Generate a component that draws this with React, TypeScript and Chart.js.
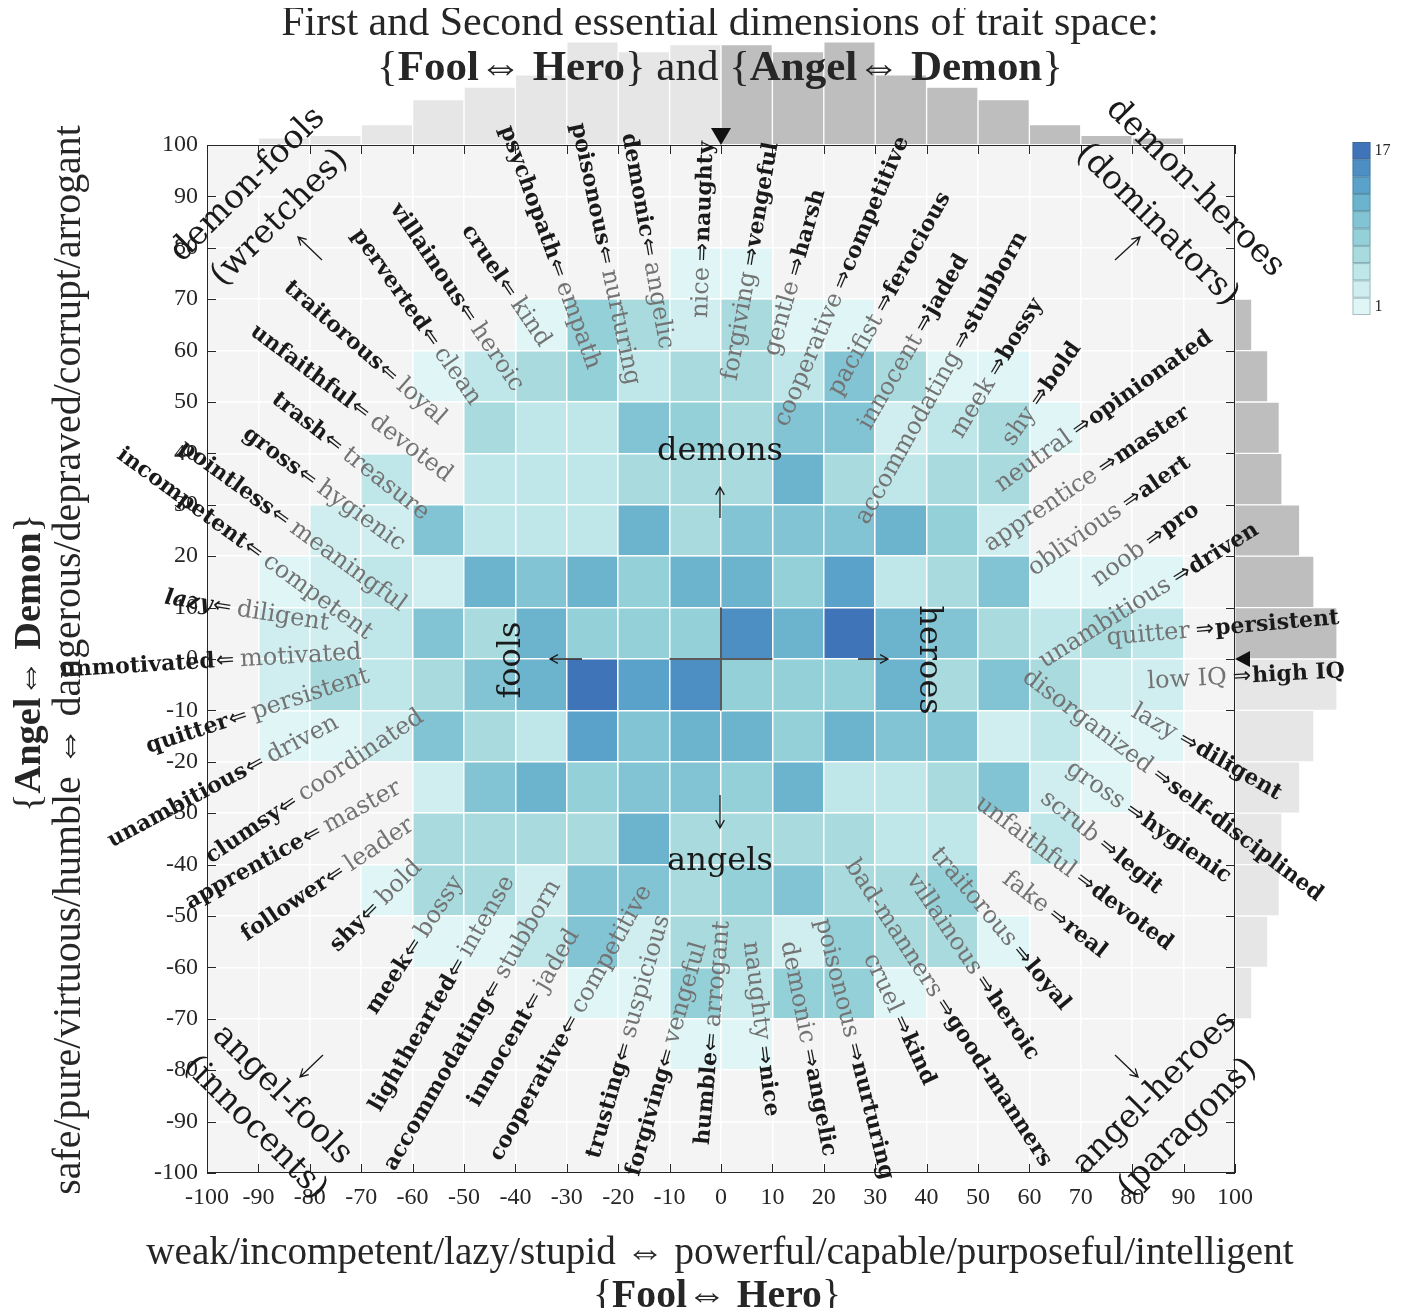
import React, { useEffect, useRef } from 'react';
import { Chart, registerables } from 'chart.js';

Chart.register(...registerables);

// ---------------- data ----------------
const X_BIN_LOWS = [-100, -90, -80, -70, -60, -50, -40, -30, -20, -10, 0, 10, 20, 30, 40, 50, 60, 70, 80, 90];
const Y_BIN_LOWS = [70, 60, 50, 40, 30, 20, 10, 0, -10, -20, -30, -40, -50, -60, -70, -80];

// counts per 10x10 cell, columns follow X_BIN_LOWS
const COUNTS_Y70 = [0, 0, 0, 0, 0, 0, 0, 0, 0, 1, 1, 0, 0, 0, 0, 0, 0, 0, 0, 0];
const COUNTS_Y60 = [0, 0, 0, 0, 0, 0, 1, 8, 6, 3, 6, 1, 1, 0, 0, 0, 0, 0, 0, 0];
const COUNTS_Y50 = [0, 0, 0, 0, 1, 5, 6, 8, 5, 6, 6, 5, 10, 6, 1, 1, 0, 0, 0, 0];
const COUNTS_Y40 = [0, 0, 0, 0, 0, 6, 5, 5, 10, 8, 6, 10, 10, 3, 5, 6, 1, 0, 0, 0];
const COUNTS_Y30 = [0, 0, 0, 5, 0, 5, 5, 5, 6, 6, 6, 12, 6, 5, 6, 6, 0, 0, 0, 0];
const COUNTS_Y20 = [0, 0, 3, 3, 10, 5, 5, 5, 12, 6, 10, 10, 10, 12, 8, 3, 0, 0, 0, 0];
const COUNTS_Y10 = [0, 1, 3, 5, 3, 12, 10, 12, 8, 12, 12, 8, 13, 5, 6, 10, 1, 1, 1, 0];
const COUNTS_Y0 = [0, 3, 3, 5, 10, 6, 12, 8, 8, 8, 15, 12, 17, 12, 10, 6, 5, 6, 5, 0];
const COUNTS_YM10 = [0, 3, 6, 5, 6, 10, 12, 17, 13, 15, 8, 8, 8, 12, 6, 10, 6, 3, 3, 0];
const COUNTS_YM20 = [0, 1, 1, 3, 10, 6, 5, 13, 10, 12, 12, 8, 12, 10, 10, 3, 5, 1, 1, 0];
const COUNTS_YM30 = [0, 0, 0, 0, 3, 10, 12, 8, 10, 10, 8, 12, 5, 5, 6, 10, 3, 1, 0, 0];
const COUNTS_YM40 = [0, 0, 0, 0, 6, 6, 6, 6, 12, 6, 6, 6, 6, 5, 5, 0, 5, 0, 0, 0];
const COUNTS_YM50 = [0, 0, 0, 1, 6, 6, 3, 10, 10, 6, 8, 10, 6, 6, 8, 0, 0, 0, 0, 0];
const COUNTS_YM60 = [0, 0, 0, 0, 1, 1, 5, 10, 3, 6, 6, 3, 8, 6, 6, 1, 0, 0, 0, 0];
const COUNTS_YM70 = [0, 0, 0, 0, 0, 0, 0, 1, 1, 8, 5, 8, 8, 1, 0, 0, 0, 0, 0, 0];
const COUNTS_YM80 = [0, 0, 0, 0, 0, 0, 0, 0, 0, 1, 1, 0, 0, 0, 0, 0, 0, 0, 0, 0];

const HEAT_ROWS = [COUNTS_Y70, COUNTS_Y60, COUNTS_Y50, COUNTS_Y40, COUNTS_Y30, COUNTS_Y20, COUNTS_Y10, COUNTS_Y0,
  COUNTS_YM10, COUNTS_YM20, COUNTS_YM30, COUNTS_YM40, COUNTS_YM50, COUNTS_YM60, COUNTS_YM70, COUNTS_YM80];

// marginal histograms
const TOP_HIST_COUNTS = [0, 8, 11, 23, 51, 65, 79, 116, 105, 113, 113, 105, 116, 79, 65, 51, 23, 11, 8, 0];
const RIGHT_HIST_BINS = [90, 80, 70, 60, 50, 40, 30, 20, 10, 0, -10, -20, -30, -40, -50, -60, -70, -80, -90, -100];
const RIGHT_HIST_COUNTS = [0, 0, 0, 19, 37, 50, 53, 73, 89, 115, 115, 89, 73, 53, 50, 37, 19, 0, 0, 0];

const COUNT_MIN = 1;
const COUNT_MAX = 17;
const CELL_COLORS = ['#e0f6f6', '#d0eef0', '#bfe6e8', '#a8dade', '#94d0d8', '#82c4d3', '#6cb3ce', '#5aa2c9', '#4d8fc2', '#3f74b8'];

// trait labels: [bold word, grey word, anchor x, anchor y (reference px), angle (deg), direction]
const TRAIT_LABELS: any[] = [
  ['demonic', 'angelic', 648, 247, 80, 'in'],
  ['poisonous', 'nurturing', 605, 255, 78, 'in'],
  ['psychopath', 'empath', 557, 268, 70, 'in'],
  ['cruel', 'kind', 507, 288, 56, 'in'],
  ['villainous', 'heroic', 467, 313, 56, 'in'],
  ['perverted', 'clean', 430, 337, 55, 'in'],
  ['traitorous', 'loyal', 388, 373, 41, 'in'],
  ['unfaithful', 'devoted', 360, 410, 37, 'in'],
  ['trash', 'treasure', 333, 443, 38, 'in'],
  ['gross', 'hygienic', 307, 477, 36, 'in'],
  ['pointless', 'meaningful', 280, 517, 36, 'in'],
  ['incompetent', 'competent', 253, 550, 36, 'in'],
  ['lazy', 'diligent', 222, 607, 9, 'in', true],
  ['unmotivated', 'motivated', 225, 661, -3.5, 'in'],
  ['quitter', 'persistent', 238, 718, -18, 'in'],
  ['unambitious', 'driven', 255, 765, -28, 'in'],
  ['clumsy', 'coordinated', 288, 805, -34, 'in'],
  ['apprentice', 'master', 312, 835, -29, 'in'],
  ['follower', 'leader', 335, 875, -34, 'in'],
  ['shy', 'bold', 370, 912, -45, 'in'],
  ['meek', 'bossy', 413, 948, -57, 'in'],
  ['lighthearted', 'intense', 457, 968, -60, 'in'],
  ['accommodating', 'stubborn', 493, 990, -60, 'in'],
  ['innocent', 'jaded', 533, 1002, -60, 'in'],
  ['cooperative', 'competitive', 570, 1025, -61, 'in'],
  ['trusting', 'suspicious', 624, 1052, -74, 'in'],
  ['forgiving', 'vengeful', 667, 1058, -74, 'in'],
  ['humble', 'arrogant', 712, 1042, -85, 'in'],
  ['naughty', 'nice', 703, 252, -88, 'out'],
  ['vengeful', 'forgiving', 752, 257, -80, 'out'],
  ['harsh', 'gentle', 797, 267, -74, 'out'],
  ['competitive', 'cooperative', 843, 280, -67, 'out'],
  ['ferocious', 'pacifist', 885, 303, -61, 'out'],
  ['jaded', 'innocent', 925, 323, -60, 'out'],
  ['stubborn', 'accommodating', 963, 340, -61, 'out'],
  ['bossy', 'meek', 998, 367, -59, 'out'],
  ['bold', 'shy', 1040, 397, -55, 'out'],
  ['opinionated', 'neutral', 1082, 427, -35.5, 'out'],
  ['master', 'apprentice', 1108, 465, -34, 'out'],
  ['alert', 'oblivious', 1132, 500, -35, 'out'],
  ['pro', 'noob', 1155, 538, -36, 'out'],
  ['driven', 'unambitious', 1182, 575, -32, 'out'],
  ['persistent', 'quitter', 1205, 630, -5, 'out'],
  ['high IQ', 'low IQ', 1242, 677, -3, 'out'],
  ['diligent', 'lazy', 1188, 742, 30, 'out'],
  ['self-disciplined', 'disorganized', 1162, 778, 37, 'out'],
  ['hygienic', 'gross', 1135, 813, 35, 'out'],
  ['legit', 'scrub', 1108, 848, 39, 'out'],
  ['devoted', 'unfaithful', 1085, 882, 37, 'out'],
  ['real', 'fake', 1058, 918, 38, 'out'],
  ['loyal', 'traitorous', 1022, 955, 50, 'out'],
  ['heroic', 'villainous', 985, 985, 56, 'out'],
  ['good-manners', 'bad-manners', 945, 1008, 57, 'out'],
  ['kind', 'cruel', 902, 1025, 65, 'out'],
  ['nurturing', 'poisonous', 855, 1052, 76, 'out'],
  ['angelic', 'demonic', 810, 1058, 79, 'out'],
  ['nice', 'naughty', 764, 1055, 83, 'out'],
];

const CORNER_LABELS: any[] = [
  ['demon-fools', 248, 185, -45],
  ['(wretches)', 280, 218, -45],
  ['demon-heroes', 1195, 188, 45],
  ['(dominators)', 1157, 225, 45],
  ['angel-fools', 282, 1095, 45],
  ['(innocents)', 255, 1128, 45],
  ['angel-heroes', 1155, 1093, -45],
  ['(paragons)', 1188, 1128, -45],
];

const TITLE_LINE1 = 'First and Second essential dimensions of trait space:';
const TITLE_LINE2: any[] = [['{', 0], ['Fool', 1], ['\u21D4 ', 0], ['Hero', 1], ['} and {', 0], ['Angel', 1], ['\u21D4 ', 0], ['Demon', 1], ['}', 0]];
const XLABEL_LINE1 = 'weak/incompetent/lazy/stupid \u21D4 powerful/capable/purposeful/intelligent';
const XLABEL_LINE2: any[] = [['{', 0], ['Fool', 1], ['\u21D4 ', 0], ['Hero', 1], ['}', 0]];
const YLABEL_LINE1 = 'safe/pure/virtuous/humble \u21D4 dangerous/depraved/corrupt/arrogant';
const YLABEL_LINE2: any[] = [['{', 0], ['Angel', 1], ['\u21D4 ', 0], ['Demon', 1], ['}', 0]];

// ---------------- helpers ----------------
const SERIF = '"Liberation Serif", "Times New Roman", serif';
const LSERIF = '"DejaVu Serif", serif';
const REF_CX = 721;
const REF_CY = 659;
const REF_UNIT = 5.14;

function colorFor(c: number) {
  const i = Math.max(0, Math.min(CELL_COLORS.length - 1, Math.floor(((c - COUNT_MIN) / (COUNT_MAX - COUNT_MIN)) * CELL_COLORS.length)));
  return CELL_COLORS[i];
}

function segWidth(ctx: any, segs: any[], size: number, family: string) {
  let w = 0;
  for (const [t, b] of segs) {
    ctx.font = `${b ? 'bold ' : ''}${size}px ${family}`;
    w += ctx.measureText(t).width;
  }
  return w;
}

function drawSegs(ctx: any, segs: any[], size: number, family: string, color: string) {
  const w = segWidth(ctx, segs, size, family);
  let x = -w / 2;
  ctx.textAlign = 'left';
  ctx.fillStyle = color;
  for (const [t, b] of segs) {
    ctx.font = `${b ? 'bold ' : ''}${size}px ${family}`;
    ctx.fillText(t, x, 0);
    x += ctx.measureText(t).width;
  }
}

function arrowLine(ctx: any, x1: number, y1: number, x2: number, y2: number, head = 9) {
  const ang = Math.atan2(y2 - y1, x2 - x1);
  ctx.beginPath();
  ctx.moveTo(x1, y1);
  ctx.lineTo(x2, y2);
  ctx.moveTo(x2 - head * Math.cos(ang - 0.5), y2 - head * Math.sin(ang - 0.5));
  ctx.lineTo(x2, y2);
  ctx.lineTo(x2 - head * Math.cos(ang + 0.5), y2 - head * Math.sin(ang + 0.5));
  ctx.stroke();
}

const overlayPlugin = {
  id: 'overlay',
  beforeDraw(chart: any) {
    const { ctx, chartArea: a } = chart;
    ctx.save();
    ctx.fillStyle = '#f4f4f4';
    ctx.fillRect(a.left, a.top, a.right - a.left, a.bottom - a.top);
    ctx.restore();
  },
  afterDraw(chart: any) {
    const { ctx, chartArea: a } = chart;
    const xs = chart.scales.x;
    const ys = chart.scales.y;
    const X = (v: number) => xs.getPixelForValue(v);
    const Y = (v: number) => ys.getPixelForValue(v);
    const R = (px: number, py: number) => [X((px - REF_CX) / REF_UNIT), Y((REF_CY - py) / REF_UNIT)];
    ctx.save();

    // crosshair at origin
    ctx.strokeStyle = '#5a5a5a';
    ctx.lineWidth = 2;
    ctx.beginPath();
    ctx.moveTo(X(-10), Y(0));
    ctx.lineTo(X(10), Y(0));
    ctx.moveTo(X(0), Y(-10));
    ctx.lineTo(X(0), Y(10));
    ctx.stroke();

    // box + inward ticks
    ctx.strokeStyle = '#262626';
    ctx.lineWidth = 1;
    ctx.strokeRect(a.left + 0.5, a.top + 0.5, a.right - a.left - 1, a.bottom - a.top - 1);
    ctx.beginPath();
    for (let v = -100; v <= 100; v += 10) {
      const px = Math.round(X(v)) + 0.5;
      const py = Math.round(Y(v)) + 0.5;
      ctx.moveTo(px, a.top); ctx.lineTo(px, a.top + 9);
      ctx.moveTo(px, a.bottom); ctx.lineTo(px, a.bottom - 9);
      ctx.moveTo(a.left, py); ctx.lineTo(a.left + 9, py);
      ctx.moveTo(a.right, py); ctx.lineTo(a.right - 9, py);
    }
    ctx.stroke();

    // mean markers
    ctx.fillStyle = '#111';
    ctx.beginPath();
    ctx.moveTo(X(0), a.top);
    ctx.lineTo(X(0) - 10, a.top - 17);
    ctx.lineTo(X(0) + 10, a.top - 17);
    ctx.closePath();
    ctx.fill();
    ctx.beginPath();
    ctx.moveTo(a.right, Y(0));
    ctx.lineTo(a.right + 15, Y(0) - 8);
    ctx.lineTo(a.right + 15, Y(0) + 8);
    ctx.closePath();
    ctx.fill();

    // colorbar
    const [cbx0, cby0] = R(1352.5, 142);
    const [cbx1, cby1] = R(1370.5, 315);
    const n = CELL_COLORS.length;
    const bh = (cby1 - cby0) / n;
    for (let i = 0; i < n; i++) {
      const y0 = cby1 - (i + 1) * bh;
      ctx.fillStyle = CELL_COLORS[i];
      ctx.fillRect(cbx0, y0, cbx1 - cbx0, bh);
      ctx.strokeStyle = 'rgba(60,90,100,0.35)';
      ctx.lineWidth = 1;
      ctx.strokeRect(cbx0 + 0.5, y0 + 0.5, cbx1 - cbx0 - 1, bh - 1);
    }
    ctx.fillStyle = '#262626';
    ctx.font = `16px ${SERIF}`;
    ctx.textAlign = 'left';
    ctx.textBaseline = 'middle';
    ctx.fillText(String(COUNT_MAX), cbx1 + 4, cby0 + bh / 2);
    ctx.fillText(String(COUNT_MIN), cbx1 + 4, cby1 - bh / 2);

    // quadrant centre labels
    ctx.fillStyle = '#1a1a1a';
    ctx.strokeStyle = '#1a1a1a';
    ctx.lineWidth = 1.3;
    ctx.font = `32px ${LSERIF}`;
    ctx.textAlign = 'center';
    ctx.textBaseline = 'middle';
    let p = R(720, 452); ctx.fillText('demons', p[0], p[1]);
    p = R(720, 862); ctx.fillText('angels', p[0], p[1]);
    p = R(512, 660);
    ctx.save(); ctx.translate(p[0], p[1]); ctx.rotate(-Math.PI / 2); ctx.fillText('fools', 0, 0); ctx.restore();
    p = R(928, 660);
    ctx.save(); ctx.translate(p[0], p[1]); ctx.rotate(Math.PI / 2); ctx.fillText('heroes', 0, 0); ctx.restore();
    const arrows = [
      [720, 518, 720, 487], [582, 659, 550, 659], [858, 659, 888, 659], [720, 795, 720, 828],
      [322, 260, 298, 237], [1115, 260, 1140, 237], [323, 1055, 300, 1077], [1115, 1055, 1138, 1077],
    ];
    for (const [x1, y1, x2, y2] of arrows) {
      const s = R(x1, y1); const e = R(x2, y2);
      arrowLine(ctx, s[0], s[1], e[0], e[1]);
    }

    // corner labels
    ctx.font = `33px ${LSERIF}`;
    for (const [t, px, py, ang] of CORNER_LABELS) {
      const q = R(px, py);
      ctx.save(); ctx.translate(q[0], q[1]); ctx.rotate((ang * Math.PI) / 180); ctx.fillText(t, 0, 0); ctx.restore();
    }

    // trait labels
    const BOLD = `bold 22px ${LSERIF}`;
    const BOLDI = `italic bold 22px ${LSERIF}`;
    const GREY = `24px ${LSERIF}`;
    const ARROWF = `22px "DejaVu Sans", sans-serif`;
    const GREYC = '#737373';
    for (const L of TRAIT_LABELS) {
      const [bold, grey, px, py, ang, dir, ital] = L;
      const q = R(px, py);
      ctx.save();
      ctx.translate(q[0], q[1]);
      ctx.rotate((ang * Math.PI) / 180);
      ctx.textBaseline = 'middle';
      const arrow = dir === 'in' ? '\u21D0' : '\u21D2';
      ctx.font = ARROWF;
      const aw = ctx.measureText(arrow).width;
      ctx.fillStyle = '#1a1a1a';
      ctx.textAlign = 'center';
      ctx.fillText(arrow, 0, 0);
      if (dir === 'in') {
        ctx.font = ital ? BOLDI : BOLD;
        ctx.textAlign = 'right';
        ctx.fillText(bold, -aw / 2 - 1, 0);
        ctx.font = GREY;
        ctx.fillStyle = GREYC;
        ctx.textAlign = 'left';
        ctx.fillText(grey, aw / 2 + 6, 0);
      } else {
        ctx.font = GREY;
        ctx.fillStyle = GREYC;
        ctx.textAlign = 'right';
        ctx.fillText(grey, -aw / 2 - 6, 0);
        ctx.font = BOLD;
        ctx.fillStyle = '#1a1a1a';
        ctx.textAlign = 'left';
        ctx.fillText(bold, aw / 2 + 1, 0);
      }
      ctx.restore();
    }

    // titles
    ctx.textBaseline = 'alphabetic';
    ctx.fillStyle = '#262626';
    ctx.font = `100px ${SERIF}`;
    const t1 = (100 * 878) / ctx.measureText(TITLE_LINE1).width;
    p = R(720, 35);
    ctx.save(); ctx.translate(p[0], p[1]); drawSegs(ctx, [[TITLE_LINE1, 0]], t1, SERIF, '#262626'); ctx.restore();
    const t2 = (100 * 686) / segWidth(ctx, TITLE_LINE2, 100, SERIF);
    p = R(720, 80);
    ctx.save(); ctx.translate(p[0], p[1]); drawSegs(ctx, TITLE_LINE2, t2, SERIF, '#262626'); ctx.restore();

    // x axis label
    const xl1 = (100 * 1148) / segWidth(ctx, [[XLABEL_LINE1, 0]], 100, SERIF);
    p = R(720, 1264);
    ctx.save(); ctx.translate(p[0], p[1]); drawSegs(ctx, [[XLABEL_LINE1, 0]], xl1, SERIF, '#262626'); ctx.restore();
    const xl2 = (100 * 248) / segWidth(ctx, XLABEL_LINE2, 100, SERIF);
    p = R(717, 1307);
    ctx.save(); ctx.translate(p[0], p[1]); drawSegs(ctx, XLABEL_LINE2, xl2, SERIF, '#262626'); ctx.restore();

    // y axis label
    const yl1 = (100 * 1070) / segWidth(ctx, [[YLABEL_LINE1, 0]], 100, SERIF);
    p = R(80, 660);
    ctx.save(); ctx.translate(p[0], p[1]); ctx.rotate(-Math.PI / 2); drawSegs(ctx, [[YLABEL_LINE1, 0]], yl1, SERIF, '#262626'); ctx.restore();
    const yl2 = (100 * 298) / segWidth(ctx, YLABEL_LINE2, 100, SERIF);
    p = R(40, 663);
    ctx.save(); ctx.translate(p[0], p[1]); ctx.rotate(-Math.PI / 2); drawSegs(ctx, YLABEL_LINE2, yl2, SERIF, '#262626'); ctx.restore();

    ctx.restore();
  },
};

export default function App() {
  const mainRef = useRef<HTMLCanvasElement>(null);
  const topRef = useRef<HTMLCanvasElement>(null);
  const rightRef = useRef<HTMLCanvasElement>(null);

  useEffect(() => {
    const charts: Chart[] = [];

    // top marginal histogram (x distribution)
    charts.push(new Chart(topRef.current as HTMLCanvasElement, {
      type: 'bar',
      data: {
        labels: X_BIN_LOWS.map((v) => String(v)),
        datasets: [{
          data: TOP_HIST_COUNTS,
          backgroundColor: X_BIN_LOWS.map((v) => (v < 0 ? '#e6e6e6' : '#bebebe')),
          borderColor: '#ffffff',
          borderWidth: 1,
          barPercentage: 1,
          categoryPercentage: 1,
        }],
      },
      options: {
        responsive: false,
        animation: false,
        devicePixelRatio: 1,
        events: [],
        layout: { padding: 0 },
        plugins: { legend: { display: false }, tooltip: { enabled: false } },
        scales: { x: { display: false }, y: { display: false, min: 0, max: 154 } },
      },
    } as any));

    // right marginal histogram (y distribution)
    charts.push(new Chart(rightRef.current as HTMLCanvasElement, {
      type: 'bar',
      data: {
        labels: RIGHT_HIST_BINS.map((v) => String(v)),
        datasets: [{
          data: RIGHT_HIST_COUNTS,
          backgroundColor: RIGHT_HIST_BINS.map((v) => (v >= 0 ? '#bebebe' : '#e6e6e6')),
          borderColor: '#ffffff',
          borderWidth: 1,
          barPercentage: 1,
          categoryPercentage: 1,
        }],
      },
      options: {
        indexAxis: 'y',
        responsive: false,
        animation: false,
        devicePixelRatio: 1,
        events: [],
        layout: { padding: 0 },
        plugins: { legend: { display: false }, tooltip: { enabled: false } },
        scales: { x: { display: false, min: 0, max: 169 }, y: { display: false } },
      },
    } as any));

    // heat map cells
    const cells: any[] = [];
    HEAT_ROWS.forEach((row, r) => {
      row.forEach((c, i) => {
        if (c > 0) cells.push({ x: X_BIN_LOWS[i] + 5, y: Y_BIN_LOWS[r] + 5, c });
      });
    });
    const cellRadius = (ctx: any) => {
      const s = ctx.chart.scales && ctx.chart.scales.x;
      if (!s) return 30;
      const w = Math.abs(s.getPixelForValue(10) - s.getPixelForValue(0));
      return w / Math.SQRT2;
    };
    const tickFont = { family: SERIF, size: 24 };

    charts.push(new Chart(mainRef.current as HTMLCanvasElement, {
      type: 'scatter',
      data: {
        datasets: [{
          data: cells,
          pointStyle: 'rect',
          pointRadius: cellRadius,
          pointHoverRadius: cellRadius,
          pointBackgroundColor: cells.map((p) => colorFor(p.c)),
          backgroundColor: cells.map((p) => colorFor(p.c)),
          pointBorderWidth: 0,
          borderWidth: 0,
        }],
      },
      options: {
        responsive: false,
        animation: false,
        devicePixelRatio: 1,
        events: [],
        layout: { padding: { left: 147, top: 145, right: 171, bottom: 93 } },
        plugins: { legend: { display: false }, tooltip: { enabled: false } },
        scales: {
          x: {
            type: 'linear', min: -100, max: 100,
            ticks: { stepSize: 10, autoSkip: false, maxRotation: 0, font: tickFont, color: '#262626', padding: 10 },
            grid: { color: '#ffffff', lineWidth: 1.5, z: 1, drawTicks: false },
            border: { display: false },
            afterFit: (s: any) => { s.height = 50; },
          },
          y: {
            type: 'linear', min: -100, max: 100,
            ticks: { stepSize: 10, autoSkip: false, font: tickFont, color: '#262626', padding: 9 },
            grid: { color: '#ffffff', lineWidth: 1.5, z: 1, drawTicks: false },
            border: { display: false },
            afterFit: (s: any) => { s.width = 60; },
          },
        },
      },
      plugins: [overlayPlugin],
    } as any));

    return () => charts.forEach((c) => c.destroy());
  }, []);

  return (
    <div style={{ position: 'relative', width: 1390, height: 1300 }}>
      <canvas ref={topRef} width={1028} height={137} style={{ position: 'absolute', left: 199, top: 0, width: 1028, height: 137 }} />
      <canvas ref={rightRef} width={150} height={1028} style={{ position: 'absolute', left: 1227, top: 137, width: 150, height: 1028 }} />
      <canvas ref={mainRef} width={1406} height={1316} style={{ position: 'absolute', left: -8, top: -8, width: 1406, height: 1316 }} />
    </div>
  );
}
